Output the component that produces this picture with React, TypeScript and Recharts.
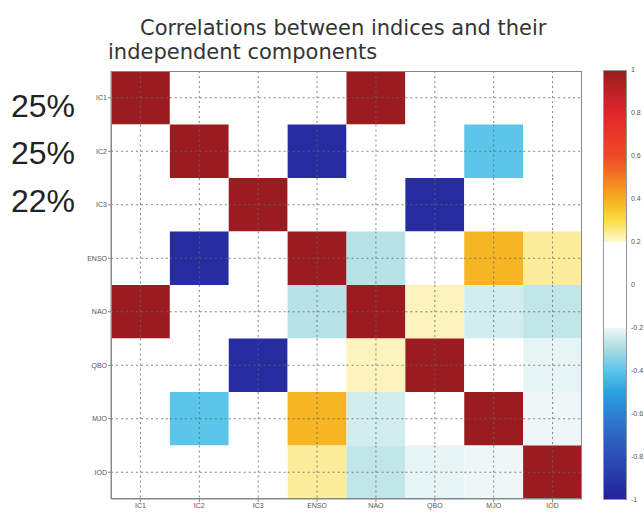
import { ScatterChart, Scatter, XAxis, YAxis } from 'recharts';

// categories (both axes)
const indices = ['IC1', 'IC2', 'IC3', 'ENSO', 'NAO', 'QBO', 'MJO', 'IOD'];

// correlation matrix, one row per index (top to bottom)
const rowIC1 = [1, 0, 0, 0, 1, 0, 0, 0];
const rowIC2 = [0, 1, 0, -0.95, 0, 0, -0.4, 0];
const rowIC3 = [0, 0, 1, 0, 0, -0.95, 0, 0];
const rowENSO = [0, -0.95, 0, 1, -0.28, 0, 0.39, 0.24];
const rowNAO = [1, 0, 0, -0.28, 1, 0.215, -0.24, -0.265];
const rowQBO = [0, 0, -0.95, 0, 0.215, 1, 0, -0.21];
const rowMJO = [0, -0.4, 0, 0.39, -0.24, 0, 1, -0.2];
const rowIOD = [0, 0, 0, 0.24, -0.265, -0.21, -0.2, 1];

const explained = ['25%', '25%', '22%'];
const colorbarTicks = [1, 0.8, 0.6, 0.4, 0.2, 0, -0.2, -0.4, -0.6, -0.8, -1];

const matrix = [rowIC1, rowIC2, rowIC3, rowENSO, rowNAO, rowQBO, rowMJO, rowIOD];
const cells = matrix.flatMap((row, i) => row.map((v, j) => ({ x: j + 1, y: i + 1, v })));
const tickPos = indices.map((_, i) => i + 1);

// colormap: white between -0.2 and 0.2
const colorStops: [number, string][] = [
  [-1, '#25229a'], [-0.8, '#2c4fb5'], [-0.6, '#2e80d0'], [-0.5, '#2aa2de'],
  [-0.4, '#5cc5ea'], [-0.3, '#a9dde2'], [-0.2, '#eef7f7'],
  [0.2, '#fef7d2'], [0.3, '#f9de45'], [0.4, '#f6b01e'], [0.5, '#f27c22'],
  [0.6, '#ee4a28'], [0.8, '#e2262b'], [1, '#9a1c20'],
];

const hex = (c: string) => [1, 3, 5].map((k) => parseInt(c.slice(k, k + 2), 16));
function colorOf(v: number) {
  if (v > -0.2 && v < 0.2) return '#ffffff';
  for (let k = 0; k < colorStops.length - 1; k++) {
    const [a, ca] = colorStops[k];
    const [b, cb] = colorStops[k + 1];
    if (v >= a && v <= b && !(a === -0.2 && b === 0.2)) {
      const t = (v - a) / (b - a);
      const A = hex(ca), B = hex(cb);
      return `rgb(${A.map((x, n) => Math.round(x + (B[n] - x) * t)).join(',')})`;
    }
  }
  return '#ffffff';
}

const W = 644, H = 513;
const M = { top: 71, right: 62, bottom: 0, left: 0 };
const Y_W = 111, X_H = 14;
const plotW = W - M.left - M.right - Y_W;
const plotH = H - M.top - M.bottom - X_H;
const cellW = plotW / indices.length;
const cellH = plotH / indices.length;

const barTop = 70, barH = 430;
const gradient = `linear-gradient(to bottom, ${colorStops
  .slice()
  .reverse()
  .map(([v, c]) => `${c} ${((1 - v) / 2) * 100}%`)
  .join(', ')
  .replace('#fef7d2 40%', '#fef7d2 40%, #ffffff 40%, #ffffff 60%')})`;

// heatmap cell with the dotted grid lines running through its centre
const Cell = (p: any) => {
  const x0 = p.cx - cellW / 2, y0 = p.cy - cellH / 2;
  return (
    <g>
      <rect x={x0} y={y0} width={cellW} height={cellH} fill={colorOf(p.payload.v)} />
      <line x1={x0} x2={x0 + cellW} y1={p.cy} y2={p.cy} stroke="#666" strokeDasharray="2 3" strokeWidth={0.8} />
      <line x1={p.cx} x2={p.cx} y1={y0} y2={y0 + cellH} stroke="#666" strokeDasharray="2 3" strokeWidth={0.8} />
    </g>
  );
};

const tickStyle = { fontSize: 7, fill: '#555', fontFamily: 'Liberation Sans, Arial' };

export default function App() {
  return (
    <div style={{ position: 'absolute', left: 0, top: 0, width: W, height: H, background: '#fff', fontFamily: 'DejaVu Sans, sans-serif' }}>
      <div style={{ position: 'absolute', left: 140, top: 18, fontSize: 21, lineHeight: 1, color: '#333', whiteSpace: 'nowrap' }}>
        Correlations between indices and their
      </div>
      <div style={{ position: 'absolute', left: 108, top: 42, fontSize: 21, lineHeight: 1, color: '#333', whiteSpace: 'nowrap' }}>
        independent components
      </div>
      {explained.map((t, i) => (
        <div key={i} style={{ position: 'absolute', left: 11, top: [90, 136.5, 185][i], fontSize: 32, lineHeight: 1, color: '#222', fontFamily: 'Liberation Sans, Arial' }}>
          {t}
        </div>
      ))}
      <ScatterChart width={W} height={H} margin={M}>
        <XAxis type="number" dataKey="x" domain={[0.5, 8.5]} ticks={tickPos} height={X_H} allowDataOverflow
          tickFormatter={(t) => indices[t - 1]} tick={tickStyle} tickSize={3} tickMargin={1}
          stroke="#888" interval={0} />
        <YAxis type="number" dataKey="y" domain={[0.5, 8.5]} ticks={tickPos} width={Y_W} reversed allowDataOverflow
          tickFormatter={(t) => indices[t - 1]} tick={tickStyle} tickSize={3} tickMargin={1}
          stroke="#888" interval={0} />
        <Scatter data={cells} shape={Cell} isAnimationActive={false} />
      </ScatterChart>
      {/* axes box drawn over the cells */}
      <div style={{ position: 'absolute', left: M.left + Y_W, top: M.top, width: plotW, height: plotH, border: '1px solid #888', boxSizing: 'border-box', pointerEvents: 'none' }} />
      <div style={{ position: 'absolute', left: 603, top: barTop, width: 24, height: barH, background: gradient, border: '1px solid #999', boxSizing: 'border-box' }} />
      {colorbarTicks.map((v) => (
        <div key={v} style={{ position: 'absolute', left: 631, top: barTop + ((1 - v) / 2) * barH - 4, fontSize: 7, lineHeight: '8px', color: '#555', fontFamily: 'Liberation Sans, Arial', whiteSpace: 'nowrap' }}>
          {v}
        </div>
      ))}
    </div>
  );
}
